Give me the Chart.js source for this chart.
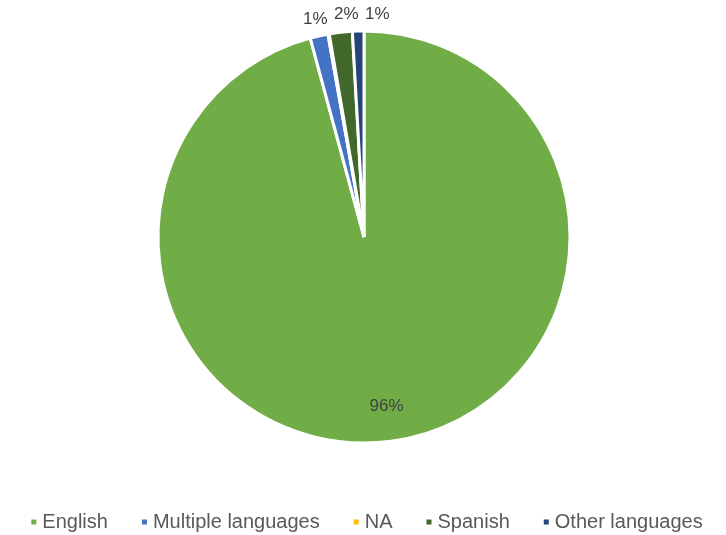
<!DOCTYPE html>
<html>
<head>
<meta charset="utf-8">
<script src="https://cdn.jsdelivr.net/npm/chart.js@4/dist/chart.umd.min.js"></script>
<style>
  body { margin: 0; background: #fff; }
  canvas { display: block; }
</style>
</head>
<body>
<canvas id="chart" width="726" height="535"></canvas>
<script>
const languages = ["English", "Multiple languages", "NA", "Spanish", "Other languages"];
const shares = [95.8, 1.4, 0.1, 1.8, 0.9];
const colors = ["#70AD47", "#4472C4", "#FFC000", "#43682B", "#264478"];

const textColor = "#404040";
const legendColor = "#595959";

// percentage labels: big slice inside, small ones just outside the rim
const sliceLabels = {
  id: "sliceLabels",
  afterDatasetsDraw(chart) {
    const ctx = chart.ctx;
    const arcs = chart.getDatasetMeta(0).data;
    const total = shares.reduce((a, b) => a + b, 0);
    const outside = [];
    ctx.save();
    ctx.font = "17px 'Liberation Sans', Arial, sans-serif";
    ctx.fillStyle = textColor;
    ctx.textAlign = "center";
    ctx.textBaseline = "middle";
    arcs.forEach((arc, i) => {
      const pct = shares[i] / total * 100;
      if (pct < 0.5) return;
      const p = arc.getProps(["x", "y", "startAngle", "endAngle", "outerRadius"], true);
      const mid = (p.startAngle + p.endAngle) / 2;
      const text = Math.round(pct) + "%";
      if (pct > 20) {
        const r = p.outerRadius * 0.83;
        ctx.fillText(text, p.x + Math.cos(mid) * r, p.y + Math.sin(mid) * r);
      } else {
        const r = p.outerRadius + 17;
        outside.push({ text, cx: p.x, cy: p.y, r, x: p.x + Math.cos(mid) * r });
      }
    });
    outside.sort((a, b) => a.x - b.x);
    for (let i = 1; i < outside.length; i++) {
      if (outside[i].x - outside[i - 1].x < 31) outside[i].x = outside[i - 1].x + 31;
    }
    outside.forEach(l => {
      const dx = l.x - l.cx;
      const y = l.cy - Math.sqrt(Math.max(l.r * l.r - dx * dx, 0));
      ctx.fillText(l.text, l.x, y);
    });
    ctx.restore();
  }
};

// legend row along the bottom, small square markers
const bottomLegend = {
  id: "bottomLegend",
  afterDraw(chart) {
    const ctx = chart.ctx;
    const box = 5, boxGap = 6, itemGap = 34;
    const y = 522;
    ctx.save();
    ctx.font = "20px 'Liberation Sans', Arial, sans-serif";
    ctx.textBaseline = "middle";
    ctx.textAlign = "left";
    const widths = languages.map(t => ctx.measureText(t).width);
    const total = widths.reduce((a, w) => a + box + boxGap + w, 0) + itemGap * (languages.length - 1);
    let x = 367 - total / 2;
    languages.forEach((t, i) => {
      ctx.fillStyle = colors[i];
      ctx.fillRect(x, y - box / 2, box, box);
      ctx.fillStyle = legendColor;
      ctx.fillText(t, x + box + boxGap, y);
      x += box + boxGap + widths[i] + itemGap;
    });
    ctx.restore();
  }
};

new Chart(document.getElementById("chart"), {
  type: "pie",
  data: {
    labels: languages,
    datasets: [{
      data: shares,
      backgroundColor: colors,
      borderColor: "#ffffff",
      borderWidth: 3,
      radius: 206
    }]
  },
  options: {
    responsive: false,
    animation: false,
    layout: { padding: { left: 2, right: 0, top: 0, bottom: 61 } },
    plugins: {
      legend: { display: false },
      tooltip: { enabled: false }
    }
  },
  plugins: [sliceLabels, bottomLegend]
});
</script>
</body>
</html>
